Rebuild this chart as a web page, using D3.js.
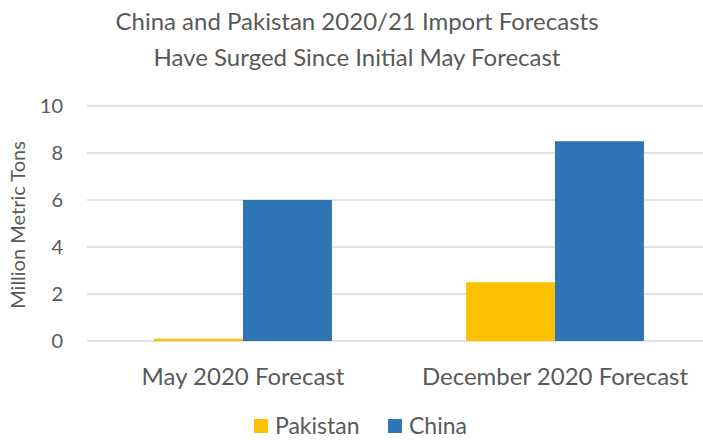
<!DOCTYPE html>
<html>
<head>
<meta charset="utf-8">
<script src="https://cdn.jsdelivr.net/npm/d3@7"></script>
<style>
  body { margin: 0; background: #fff; }
  text { font-family: Lato, "Open Sans", sans-serif; fill: #595959; }
</style>
</head>
<body>
<div id="chart"></div>
<script>
const categories = ['May 2020 Forecast', 'December 2020 Forecast'];
const seriesNames = ['Pakistan', 'China'];
const pakistan = [0.1, 2.5];
const china = [6.0, 8.5];
const yTicks = [0, 2, 4, 6, 8, 10];
const titleLines = ['China and Pakistan 2020/21 Import Forecasts', 'Have Surged Since Initial May Forecast'];
const colors = ['#FFC000', '#2E75B6'];

const width = 703, height = 440;
const svg = d3.select('#chart').append('svg')
  .attr('width', width).attr('height', height);

const x0 = d3.scaleBand().domain(categories).range([87, 711])
  .paddingInner(0.43).paddingOuter(0.215);
const x1 = d3.scaleBand().domain(seriesNames).range([0, x0.bandwidth()]);
const y = d3.scaleLinear().domain([0, 10]).range([341, 106]);

// gridlines
svg.append('g').selectAll('line').data(yTicks).enter().append('line')
  .attr('x1', 87).attr('x2', 711)
  .attr('y1', d => y(d)).attr('y2', d => y(d))
  .attr('stroke', '#d9d9d9').attr('stroke-width', 1.5);

// y tick labels
svg.append('g').selectAll('text').data(yTicks).enter().append('text')
  .attr('x', 63).attr('y', d => y(d)).attr('dy', '0.35em')
  .attr('text-anchor', 'end').style('font-size', '20px')
  .text(d => d);

// bars
const data = categories.map((c, i) => ({ cat: c, vals: [pakistan[i], china[i]] }));
const groups = svg.append('g').selectAll('g').data(data).enter().append('g')
  .attr('transform', d => `translate(${x0(d.cat)},0)`);
groups.selectAll('rect')
  .data(d => d.vals.map((v, j) => ({ name: seriesNames[j], v, j })))
  .enter().append('rect')
  .attr('x', d => x1(d.name))
  .attr('width', x1.bandwidth())
  .attr('y', d => y(d.v))
  .attr('height', d => y(0) - y(d.v))
  .attr('fill', d => colors[d.j]);

// category labels
svg.append('g').selectAll('text').data(categories).enter().append('text')
  .attr('x', d => x0(d) + x0.bandwidth() / 2).attr('y', 385)
  .attr('text-anchor', 'middle').style('font-size', '24px')
  .text(d => d);

// axis title
svg.append('text')
  .attr('transform', 'translate(25,225) rotate(-90)')
  .attr('text-anchor', 'middle').style('font-size', '20px')
  .text('Million Metric Tons');

// title
svg.append('g').selectAll('text').data(titleLines).enter().append('text')
  .attr('x', 357).attr('y', (d, i) => 30 + i * 36)
  .attr('text-anchor', 'middle').style('font-size', '24px')
  .text(d => d);

// legend (kept a few px up so the text stays inside the frame)
const legendX = [254, 388];
const legend = svg.append('g').selectAll('g').data(seriesNames).enter().append('g')
  .attr('transform', (d, i) => `translate(${legendX[i]},419)`);
legend.append('rect').attr('width', 14).attr('height', 14)
  .attr('fill', (d, i) => colors[i]);
legend.append('text').attr('x', 21).attr('y', 15)
  .style('font-size', '23px').text(d => d);
</script>
</body>
</html>
